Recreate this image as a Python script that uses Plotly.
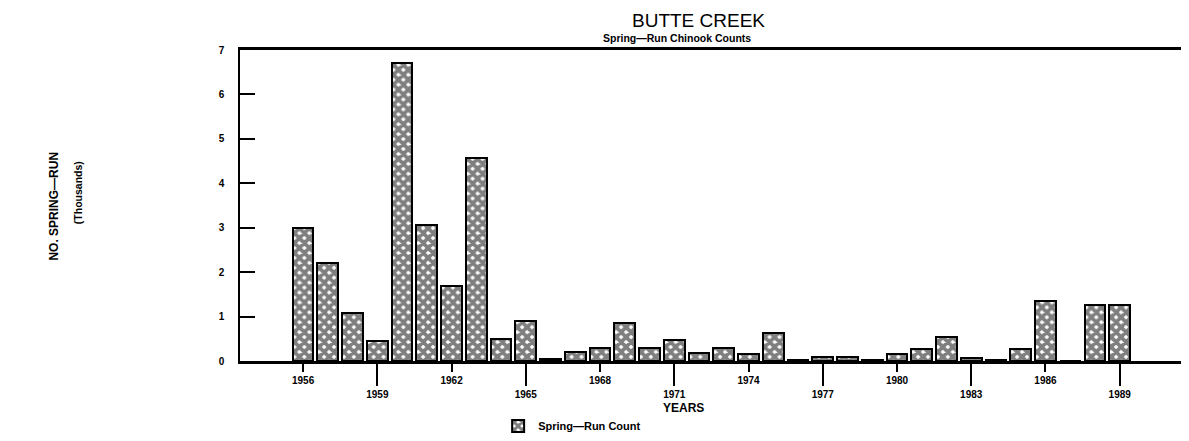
import plotly.graph_objects as go

# Butte Creek spring-run counts (thousands)
years = list(range(1956, 1990))
counts = [3.0, 2.2, 1.07, 0.45, 6.7, 3.05, 1.68, 4.58, 0.5, 0.9,
          0.05, 0.2, 0.3, 0.85, 0.3, 0.48, 0.17, 0.3, 0.15, 0.62,
          0.03, 0.08, 0.1, 0.02, 0.15, 0.28, 0.55, 0.07, 0.02, 0.27,
          1.36, 0.01, 1.25, 1.25]

upper_ticks = [1956, 1962, 1968, 1974, 1980, 1986]
lower_ticks = [1959, 1965, 1971, 1977, 1983, 1989]
y_ticks = [0, 1, 2, 3, 4, 5, 6, 7]

FONT = "Arial, Liberation Sans, sans-serif"
x_range = [1953.45, 1991.8]

fig = go.Figure()

fig.add_trace(go.Bar(
    x=years, y=counts, name="<b>Spring\u2014Run Count</b>", width=0.84,
    marker=dict(color="white", line=dict(color="black", width=2),
                pattern=dict(shape="x", fgcolor="black", bgcolor="white",
                             size=7, solidity=0.78)),
))

# page has an 8px body margin, so margins are trimmed to match the reference frame
fig.update_layout(
    width=1189, height=441,
    margin=dict(l=232, r=8, t=42, b=88),
    plot_bgcolor="white", paper_bgcolor="white",
    font=dict(family=FONT, color="black"),
    bargap=0,
    showlegend=True,
    legend=dict(orientation="h", x=0.272, y=-0.209, xanchor="left", yanchor="middle",
                font=dict(size=11, family=FONT), bgcolor="rgba(0,0,0,0)"),
    xaxis=dict(range=x_range, tickvals=upper_ticks, ticktext=[f"<b>{t}</b>" for t in upper_ticks],
               ticks="outside", ticklen=8, tickwidth=1.5, tickcolor="black",
               tickfont=dict(size=10), showline=True, linewidth=2.5, linecolor="black",
               mirror=True, showgrid=False, zeroline=False),
    xaxis2=dict(range=x_range, overlaying="x", side="bottom", anchor="y",
                tickvals=lower_ticks, ticktext=[f"<b>{t}</b>" for t in lower_ticks],
                ticks="outside", ticklen=24, tickwidth=1.5, tickcolor="black",
                tickfont=dict(size=10), showline=False, showgrid=False, zeroline=False),
    yaxis=dict(range=[0, 7], tickvals=y_ticks, ticktext=[f"<b>{t}</b>" for t in y_ticks],
               ticks="inside", ticklen=15, tickwidth=1.5, tickcolor="black",
               ticklabelstandoff=12, tickfont=dict(size=10),
               showline=True, linewidth=1.5, linecolor="black",
               showgrid=False, zeroline=False),
)

# invisible trace to activate the second x axis (lower staggered labels)
fig.add_trace(go.Scatter(x=x_range, y=[0, 0], xaxis="x2", mode="lines",
                         line=dict(width=0), showlegend=False, hoverinfo="skip"))

fig.add_annotation(text="BUTTE CREEK", xref="paper", yref="paper", x=0.483, y=1,
                   yshift=30, yanchor="middle", showarrow=False, font=dict(size=19, family=FONT))
fig.add_annotation(text="<b>Spring\u2014Run Chinook Counts</b>", xref="paper", yref="paper",
                   x=0.461, y=1, yshift=12, yanchor="middle", showarrow=False,
                   font=dict(size=10.5, family=FONT))
fig.add_annotation(text="<b>YEARS</b>", xref="paper", yref="paper", x=0.467, y=-0.151,
                   yanchor="middle", showarrow=False, font=dict(size=12, family=FONT))
fig.add_annotation(text="<b>NO. SPRING\u2014RUN</b>", xref="paper", yref="paper", x=-0.205, y=0.498,
                   textangle=-90, yanchor="middle", showarrow=False, font=dict(size=12, family=FONT))
fig.add_annotation(text="<b>(Thousands)</b>", xref="paper", yref="paper", x=-0.179, y=0.54,
                   textangle=-90, yanchor="middle", showarrow=False, font=dict(size=10.5, family=FONT))

fig.write_html("out.html")
